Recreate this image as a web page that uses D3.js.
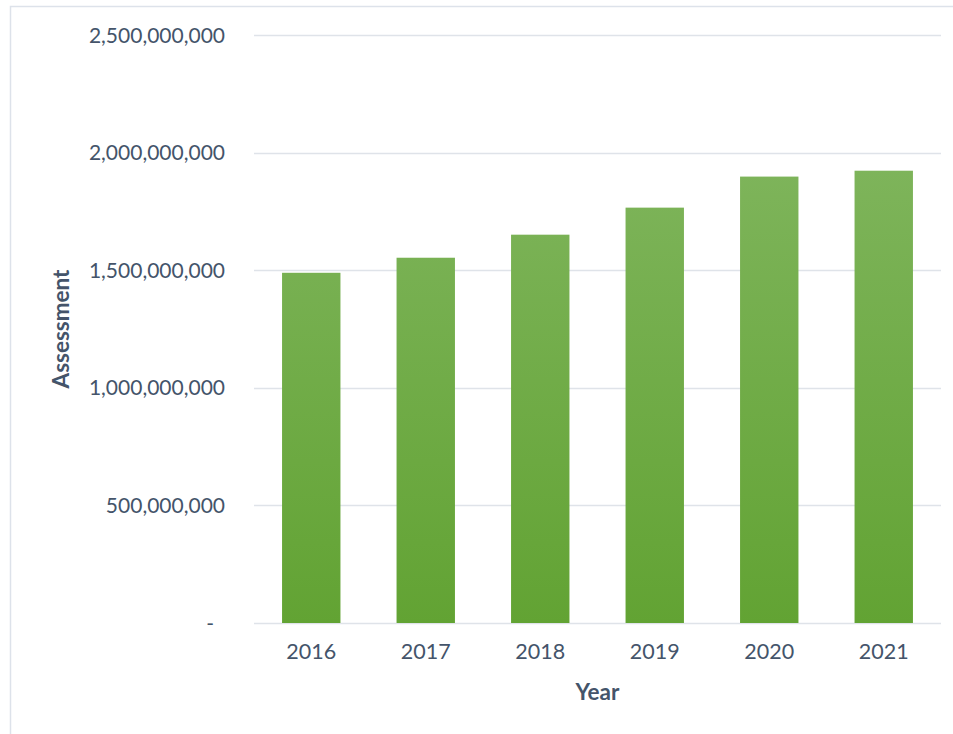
<!DOCTYPE html>
<html>
<head>
<meta charset="utf-8">
<script src="https://cdn.jsdelivr.net/npm/d3@7"></script>
<style>
  body { margin: 0; background: #fff; }
  text { font-family: Lato, "Open Sans", sans-serif; }
</style>
</head>
<body>
<div id="chart"></div>
<script>
// data
const years = ['2016', '2017', '2018', '2019', '2020', '2021'];
const assessment = [1489000000, 1553000000, 1651000000, 1766000000, 1898000000, 1923000000];
const yTicks = [0, 500000000, 1000000000, 1500000000, 2000000000, 2500000000];

const width = 953, height = 734;
const margin = { top: 35, right: 12, bottom: 111, left: 254 };
const textColor = '#44546a';
const gridColor = '#dfe3e9';

const svg = d3.select('#chart').append('svg')
  .attr('width', width)
  .attr('height', height);

// chart border (runs off the right and bottom edge)
svg.append('rect')
  .attr('x', 10.5).attr('y', 6.5)
  .attr('width', width + 20).attr('height', height + 20)
  .attr('fill', 'none')
  .attr('stroke', '#dde2ea')
  .attr('stroke-width', 1.5);

const defs = svg.append('defs');
const grad = defs.append('linearGradient')
  .attr('id', 'barFill')
  .attr('gradientUnits', 'userSpaceOnUse')
  .attr('x1', 0).attr('x2', 0)
  .attr('y1', margin.top).attr('y2', height - margin.bottom);
grad.append('stop').attr('offset', '0%').attr('stop-color', '#86b966');
grad.append('stop').attr('offset', '100%').attr('stop-color', '#62a333');

const x = d3.scaleBand()
  .domain(years)
  .range([margin.left, width - margin.right])
  .paddingInner(0.49)
  .paddingOuter(0.245);

const y = d3.scaleLinear()
  .domain([0, 2500000000])
  .range([height - margin.bottom, margin.top]);

// gridlines
svg.append('g')
  .selectAll('line')
  .data(yTicks)
  .join('line')
  .attr('x1', margin.left)
  .attr('x2', width - margin.right)
  .attr('y1', d => Math.round(y(d)) + 0.5)
  .attr('y2', d => Math.round(y(d)) + 0.5)
  .attr('stroke', gridColor)
  .attr('stroke-width', 1.5);

// bars
svg.append('g')
  .selectAll('rect')
  .data(years.map((yr, i) => ({ year: yr, value: assessment[i] })))
  .join('rect')
  .attr('x', d => x(d.year))
  .attr('width', x.bandwidth())
  .attr('y', d => y(d.value))
  .attr('height', d => y(0) - y(d.value))
  .attr('fill', 'url(#barFill)');

// y axis
const fmt = d3.format(',');
const yAxis = svg.append('g')
  .attr('transform', `translate(${margin.left},0)`)
  .call(d3.axisLeft(y)
    .tickValues(yTicks)
    .tickSize(0)
    .tickPadding(29)
    .tickFormat(d => d === 0 ? '-' : fmt(d)));
yAxis.select('.domain').remove();
yAxis.selectAll('text')
  .attr('fill', textColor)
  .attr('font-size', 21)
  .attr('dy', '0.34em');
yAxis.selectAll('.tick').filter(d => d === 0).select('text')
  .attr('x', -40);

// x axis
const xAxis = svg.append('g')
  .attr('transform', `translate(0,${height - margin.bottom})`)
  .call(d3.axisBottom(x).tickSize(0).tickPadding(21));
xAxis.select('.domain').remove();
xAxis.selectAll('text')
  .attr('fill', textColor)
  .attr('font-size', 21.5)
  .attr('dy', '0.71em');

// axis titles
svg.append('text')
  .attr('x', (margin.left + width - margin.right) / 2)
  .attr('y', 700)
  .attr('text-anchor', 'middle')
  .attr('font-weight', 'bold')
  .attr('font-size', 22.5)
  .attr('fill', textColor)
  .text('Year');

svg.append('text')
  .attr('transform', `translate(69,${(y(0) + y(2500000000)) / 2}) rotate(-90)`)
  .attr('text-anchor', 'middle')
  .attr('font-weight', 'bold')
  .attr('font-size', 22.5)
  .attr('fill', textColor)
  .text('Assessment');
</script>
</body>
</html>
